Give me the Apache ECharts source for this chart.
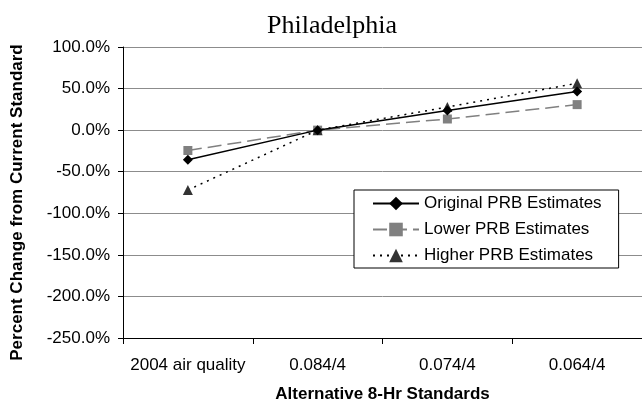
<!DOCTYPE html>
<html>
<head>
<meta charset="utf-8">
<script src="https://cdn.jsdelivr.net/npm/echarts@6/dist/echarts.min.js"></script>
<style>html,body{margin:0;padding:0;background:#fff}#c{width:642px;height:408px}</style>
</head>
<body>
<div id="c"></div>
<script>
const categories = ['2004 air quality', '0.084/4', '0.074/4', '0.064/4'];
const original = [-35.5, 0, 23.6, 46.6];
const lower = [-24.5, 0, 13.4, 30.7];
const higher = [-72.0, 0, 27.8, 56.4];
const yTicks = { min: -250, max: 100, interval: 50 };

const chart = echarts.init(document.getElementById('c'));
const font = 'Liberation Sans, Arial, sans-serif';
chart.setOption({
  animation: false,
  title: {
    text: 'Philadelphia', left: 327, top: 8, textAlign: 'center',
    textStyle: { fontFamily: 'Liberation Serif, Times New Roman, serif', fontWeight: 'normal', fontSize: 26, color: '#000' }
  },
  grid: { left: 123, top: 47, right: 0, bottom: 65, containLabel: false },
  legend: {
    orient: 'vertical', left: 354, top: 190,
    backgroundColor: '#fff', borderColor: '#000', borderWidth: 1,
    padding: [5, 17, 4, 18], itemWidth: 46, itemHeight: 17, itemGap: 9,
    textStyle: { fontFamily: font, fontSize: 17, color: '#000' },
    data: ['Original PRB Estimates', 'Lower PRB Estimates', 'Higher PRB Estimates']
  },
  xAxis: [
    {
      type: 'category', data: categories, position: 'bottom',
      axisLine: { show: false }, axisTick: { show: false },
      axisLabel: { interval: 0, fontFamily: font, fontSize: 17, color: '#000', margin: 19 },
      name: 'Alternative 8-Hr Standards', nameLocation: 'middle', nameGap: 48,
      nameTextStyle: { fontFamily: font, fontSize: 17, fontWeight: 'bold', color: '#000' }
    },
    {
      type: 'category', data: categories, position: 'bottom',
      axisLine: { onZero: true, lineStyle: { color: '#000', width: 1 } },
      axisTick: { show: true, interval: 0, length: 6, lineStyle: { color: '#000' } },
      axisLabel: { show: false }
    }
  ],
  yAxis: {
    type: 'value', min: yTicks.min, max: yTicks.max, interval: yTicks.interval,
    axisLine: { show: true, lineStyle: { color: '#000' } },
    axisTick: { show: true, length: 5, lineStyle: { color: '#000' } },
    splitLine: { show: true, lineStyle: { color: '#8c8c8c', width: 1 } },
    axisLabel: { fontFamily: font, fontSize: 17, color: '#000', margin: 13, formatter: v => v.toFixed(1) + '%' },
    name: 'Percent Change from Current Standard', nameLocation: 'middle', nameGap: 97, nameRotate: 90,
    nameTextStyle: { fontFamily: font, fontSize: 17, fontWeight: 'bold', color: '#000', padding: [0, 20, 0, 0] }
  },
  series: [
    {
      name: 'Original PRB Estimates', type: 'line', data: original,
      symbol: 'diamond', symbolSize: 10,
      lineStyle: { color: '#000', width: 1.5, type: 'solid' },
      itemStyle: { color: '#000' }, z: 5
    },
    {
      name: 'Lower PRB Estimates', type: 'line', data: lower,
      symbol: 'rect', symbolSize: 9,
      lineStyle: { color: '#808080', width: 1.5, type: [14, 6] },
      itemStyle: { color: '#808080' }, z: 3
    },
    {
      name: 'Higher PRB Estimates', type: 'line', data: higher,
      symbol: 'triangle', symbolSize: 10,
      lineStyle: { color: '#000', width: 1.5, type: [2, 5] },
      itemStyle: { color: '#333' }, z: 4
    }
  ]
});
</script>
</body>
</html>
